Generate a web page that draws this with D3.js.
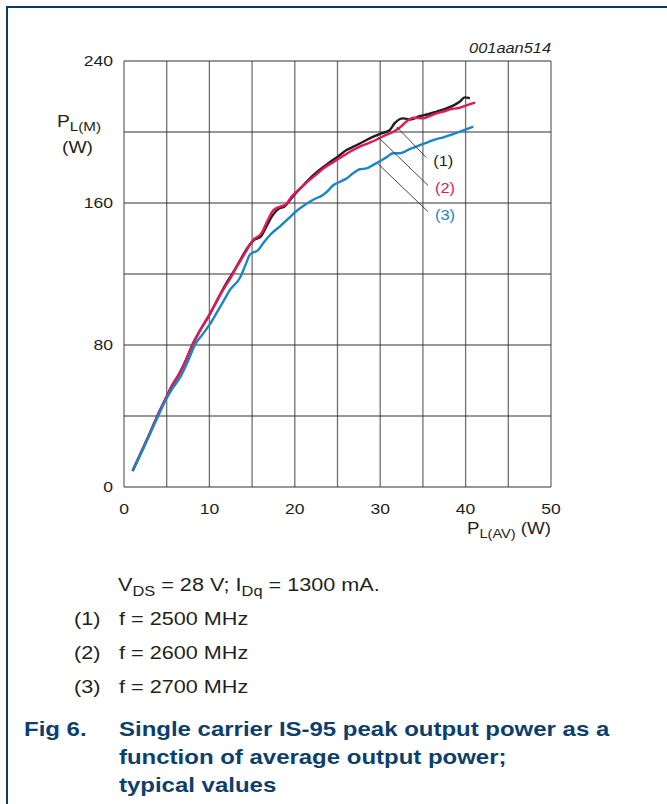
<!DOCTYPE html>
<html>
<head>
<meta charset="utf-8">
<script src="https://cdn.jsdelivr.net/npm/d3@7"></script>
<style>
  body { margin: 0; background: #fff; }
  svg text { font-family: "Liberation Sans", Arial, sans-serif; }
</style>
</head>
<body>
<div id="chart"></div>
<script>
// curve data: [P_L(AV) W, P_L(M) W]
var curve1 = [[1,9],[2,19.5],[3,30],[4,41],[5,51],[5.5,56],[6.5,64],[7.3,72],[8,80],[9,89],[10,97],[11,106],[12,115],[12.8,121],[13.5,127],[14.5,135],[15.2,139],[16,141],[16.6,146],[17.4,153],[18.2,157],[18.8,158],[19.5,162],[20,165],[21,170],[21.8,174],[23,179],[24.1,183],[25,186],[26.1,190],[27,192],[28,194.5],[29,197],[30,199],[31.1,201],[31.7,205],[32.7,207.7],[33.5,207],[34.7,209],[35.6,210],[36.6,211.5],[37.6,213],[38.6,215],[39.3,217],[39.9,219.5],[40.5,219]];
var curve2 = [[1,9],[2,19.5],[3,30],[4,41],[5,51],[5.5,56],[6.5,64],[7.3,72],[8.1,81],[9,89],[10,97],[11,106],[11.6,111],[12.5,118],[13.2,124],[14.2,132],[15.1,139],[16.1,143],[16.8,150],[17.5,156],[18.3,158],[18.9,159],[19.7,164],[20.6,168],[21.5,172],[22.5,176],[23.5,180],[24.5,183],[25.5,186],[26.5,189],[27.5,191.5],[28.5,193.5],[29.5,195.5],[30.5,198],[31.5,200],[32.3,202.5],[33.3,206.8],[33.9,208],[35,207.7],[35.8,209],[36.6,210.5],[37.4,211.5],[38.2,212.8],[39.2,213.5],[40.1,215],[41.1,216.5]];
var curve3 = [[1,9],[2,19],[3,29.5],[4,40],[5,50],[5.6,55],[6.6,62],[7.5,71],[8.3,80],[9.2,86],[10.1,92],[11.2,101],[11.8,106],[12.4,111],[13.6,118],[14.3,126],[14.75,131],[15.7,133.5],[16.4,138],[17.1,142],[18.3,147],[19.2,151],[20.2,155.5],[21.2,159],[22.2,162],[23.3,164.5],[23.9,167],[24.5,170],[25.3,172],[26.1,174],[26.9,177],[27.6,179],[28.4,179.5],[29.2,181.5],[30,183.7],[30.8,186],[31.5,188],[32.3,188],[33.5,190.5],[34.7,192.7],[35.7,194.5],[36.6,196],[37.4,197],[38.2,198.3],[39.5,200.5],[40.9,203]];

var xTicks = [0, 10, 20, 30, 40, 50];
var yTicks = [0, 80, 160, 240];
var xGrid = [0, 5, 10, 15, 20, 25, 30, 35, 40, 45, 50];
var yGrid = [0, 40, 80, 120, 160, 200, 240];

var seriesNames = ["(1)", "(2)", "(3)"];
var seriesColors = ["#231f20", "#e3175a", "#1886c8"];
// leader lines: from point on curve to label
var leaderFrom = [[31.9, 203], [29.7, 197.4], [29.7, 182.3]];
var leaderTo = [[35.4, 185.6], [35.6, 169.9], [35.6, 155.1]];

var notes = ["f = 2500 MHz", "f = 2600 MHz", "f = 2700 MHz"];
var titleLines = ["Single carrier IS-95 peak output power as a", "function of average output power;", "typical values"];

var W = 667, H = 804;
var margin = {top: 61, left: 124},
    width = 427, height = 426;
var SX = 1.17; // the source picture is stretched sideways

var svg = d3.select("#chart").append("svg")
  .attr("width", W).attr("height", H);

// page frame
svg.append("line").attr("x1", 6).attr("x2", W).attr("y1", 7).attr("y2", 7)
  .attr("stroke", "#0c3b60").attr("stroke-width", 2);
svg.append("line").attr("x1", 7).attr("x2", 7).attr("y1", 6).attr("y2", H)
  .attr("stroke", "#0c3b60").attr("stroke-width", 2);

function txt(parent, x, y, s, opts) {
  opts = opts || {};
  var t = parent.append("text")
    .attr("transform", "translate(" + x + "," + y + ") scale(" + SX + ",1)")
    .attr("font-size", opts.size || 15)
    .attr("fill", opts.fill || "#231f20")
    .attr("text-anchor", opts.anchor || "start");
  if (opts.italic) t.attr("font-style", "italic");
  if (opts.bold) t.attr("font-weight", "bold");
  return t.text(s);
}

var g = svg.append("g")
  .attr("transform", "translate(" + margin.left + "," + margin.top + ")");

var x = d3.scaleLinear().domain([0, 50]).range([0, width]);
var y = d3.scaleLinear().domain([0, 240]).range([height, 0]);

// grid
g.append("g").selectAll("line").data(xGrid).enter().append("line")
  .attr("x1", function(d) { return x(d); }).attr("x2", function(d) { return x(d); })
  .attr("y1", 0).attr("y2", height)
  .attr("stroke", "#707070").attr("stroke-width", 1.3);
g.append("g").selectAll("line").data(yGrid).enter().append("line")
  .attr("x1", 0).attr("x2", width)
  .attr("y1", function(d) { return y(d); }).attr("y2", function(d) { return y(d); })
  .attr("stroke", "#333").attr("stroke-width", 1.2);

// tick labels
g.append("g").selectAll("g").data(yTicks).enter().append("g")
  .each(function(d) { txt(d3.select(this), -11, y(d) + 5, d, {anchor: "end"}); });
g.append("g").selectAll("g").data(xTicks).enter().append("g")
  .each(function(d) { txt(d3.select(this), x(d), height + 27, d, {anchor: "middle"}); });

// axis titles
var yl = txt(g, -67, 66, "P", {size: 16.5});
yl.append("tspan").attr("font-size", 13).attr("dy", 4).text("L(M)");
txt(g, -62, 92, "(W)", {size: 16.5});
var xl = txt(g, width, height + 47, "P", {anchor: "end", size: 16});
xl.append("tspan").attr("font-size", 12.5).attr("dy", 4).text("L(AV)");
xl.append("tspan").attr("dy", -4).text(" (W)");
txt(g, width, -8, "001aan514", {anchor: "end", italic: true, size: 14});

// curves
var line = d3.line().curve(d3.curveMonotoneX)
  .x(function(d) { return x(d[0]); }).y(function(d) { return y(d[1]); });
[curve1, curve2, curve3].forEach(function(c, i) {
  g.append("path").datum(c)
    .attr("fill", "none").attr("stroke", seriesColors[i])
    .attr("stroke-width", 2.4).attr("stroke-linejoin", "round")
    .attr("d", line);
});

// leaders and labels
seriesNames.forEach(function(s, i) {
  g.append("line")
    .attr("x1", x(leaderFrom[i][0])).attr("y1", y(leaderFrom[i][1]))
    .attr("x2", x(leaderTo[i][0])).attr("y2", y(leaderTo[i][1]))
    .attr("stroke", "#333").attr("stroke-width", 0.9);
  txt(g, x(leaderTo[i][0]) + 7, y(leaderTo[i][1]) + 8, s, {fill: seriesColors[i], size: 14});
});

// notes below chart
var cond = txt(svg, 118, 591, "V", {size: 18.5});
cond.append("tspan").attr("font-size", 14).attr("dy", 5).text("DS");
cond.append("tspan").attr("dy", -5).text(" = 28 V; I");
cond.append("tspan").attr("font-size", 14).attr("dy", 5).text("Dq");
cond.append("tspan").attr("dy", -5).text(" = 1300 mA.");

notes.forEach(function(s, i) {
  txt(svg, 74, 625 + i * 34, seriesNames[i], {size: 18.5});
  txt(svg, 119, 625 + i * 34, s, {size: 18.5});
});

txt(svg, 24, 736, "Fig 6.", {size: 20.5, bold: true, fill: "#0c3f6e"});
titleLines.forEach(function(s, i) {
  txt(svg, 119, 736 + i * 28, s, {size: 20.5, bold: true, fill: "#0c3f6e"});
});
</script>
</body>
</html>
